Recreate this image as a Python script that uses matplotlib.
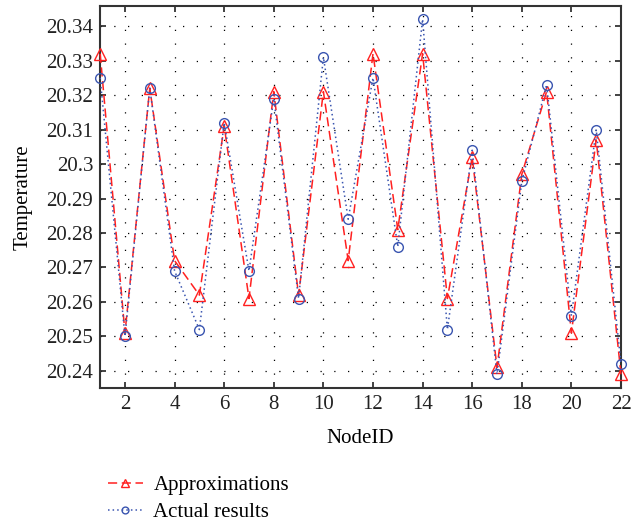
import numpy as np
import matplotlib
matplotlib.use("Agg")
from matplotlib import pyplot as plt
from matplotlib.ticker import FuncFormatter

plt.rcParams["font.family"] = ["Liberation Serif", "DejaVu Serif"]

node_id = list(range(1, 23))
approx = [20.332, 20.251, 20.322, 20.272, 20.262, 20.311, 20.261, 20.321, 20.262, 20.321, 20.272,
          20.332, 20.281, 20.332, 20.261, 20.302, 20.241, 20.297, 20.321, 20.251, 20.307, 20.239]
actual = [20.325, 20.250, 20.322, 20.269, 20.252, 20.312, 20.269, 20.319, 20.261, 20.331, 20.284,
          20.325, 20.276, 20.342, 20.252, 20.304, 20.239, 20.295, 20.323, 20.256, 20.310, 20.242]

fig = plt.figure(figsize=(6.34, 5.22), dpi=100)
ax = fig.add_axes([0.158, 0.257, 0.8215, 0.732])

ax.plot(node_id, approx, color="#ff2020", ls=(0, (6, 3)), lw=1.1, marker="^", ms=8,
        mfc="none", mec="#ff2020", mew=1.0, label="Approximations", clip_on=False, zorder=3)
ax.plot(node_id, actual, color="#3a55b0", ls=(0, (1, 2)), lw=1.1, marker="o", ms=7,
        mfc="none", mec="#3a55b0", mew=1.0, label="Actual results", clip_on=False, zorder=3)

ax.set_xlim(1, 22)
ax.set_ylim(20.2351, 20.3459)
ax.set_xticks(range(2, 23, 2))
ax.set_yticks(np.round(np.arange(20.24, 20.345, 0.01), 2))
ax.yaxis.set_major_formatter(FuncFormatter(lambda v, p: "%g" % round(v, 2)))
ax.grid(True, color="black", ls=(0, (1, 10)), lw=0.9)
ax.tick_params(direction="in", top=True, right=True, labelsize=15, length=4, width=1.2,
               pad=5, colors="#222222")
for s in ax.spines.values():
    s.set_linewidth(1.5)
    s.set_color("#333333")

ax.set_xlabel("NodeID", fontsize=15, labelpad=11)
ax.set_ylabel("Temperature", fontsize=15, labelpad=10)

leg = fig.legend(loc="lower left", bbox_to_anchor=(0.14, -0.036), frameon=False, fontsize=15,
                 handlelength=1.7, labelspacing=0.35, handletextpad=0.5, markerscale=0.7)

fig.savefig("out.png", dpi=100)
